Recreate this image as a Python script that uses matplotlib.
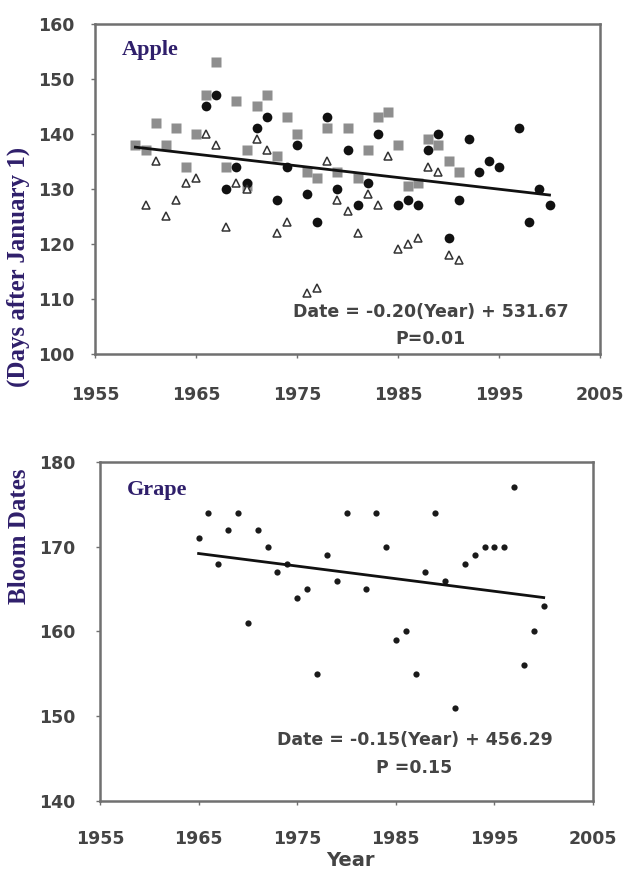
import matplotlib
matplotlib.use("Agg")
from matplotlib import pyplot as plt
import numpy as np

# apple bloom dates (days after January 1), three series
sq_years = [1959, 1960, 1961, 1962, 1963, 1964, 1965, 1966, 1967, 1968, 1969, 1970, 1970,
            1971, 1972, 1973, 1974, 1975, 1976, 1977, 1978, 1979, 1980, 1981, 1982, 1983,
            1984, 1985, 1986, 1987, 1988, 1989, 1990, 1991]
sq_vals = [138, 137, 142, 138, 141, 134, 140, 147, 153, 134, 146, 137, 130.5,
           145, 147, 136, 143, 140, 133, 132, 141, 133, 141, 132, 137, 143,
           144, 138, 130.5, 131, 139, 138, 135, 133]

ci_years = [1966, 1967, 1968, 1969, 1970, 1971, 1972, 1973, 1974, 1975, 1976, 1977, 1978,
            1979, 1980, 1981, 1982, 1983, 1985, 1986, 1987, 1988, 1989, 1990, 1991, 1992,
            1993, 1994, 1995, 1997, 1998, 1999, 2000]
ci_vals = [145, 147, 130, 134, 131, 141, 143, 128, 134, 138, 129, 124, 143,
           130, 137, 127, 131, 140, 127, 128, 127, 137, 140, 121, 128, 139,
           133, 135, 134, 141, 124, 130, 127]

tr_years = [1960, 1961, 1962, 1963, 1964, 1965, 1966, 1967, 1968, 1969, 1970, 1971, 1972,
            1973, 1974, 1976, 1977, 1978, 1979, 1980, 1981, 1982, 1983, 1984, 1985, 1986,
            1987, 1988, 1989, 1990, 1991]
tr_vals = [127, 135, 125, 128, 131, 132, 140, 138, 123, 131, 130, 139, 137,
           122, 124, 111, 112, 135, 128, 126, 122, 129, 127, 136, 119, 120,
           121, 134, 133, 118, 117]

apple_fit_x = [1959, 2000]
apple_fit_y = [137.6, 128.9]

# grape bloom dates
gr_years = [1965, 1966, 1967, 1968, 1969, 1970, 1971, 1972, 1973, 1974, 1975, 1976, 1977,
            1978, 1979, 1980, 1982, 1983, 1984, 1985, 1986, 1987, 1988, 1989, 1990, 1991,
            1992, 1993, 1994, 1995, 1996, 1997, 1998, 1999, 2000]
gr_vals = [171, 174, 168, 172, 174, 161, 172, 170, 167, 168, 164, 165, 155,
           169, 166, 174, 165, 174, 170, 159, 160, 155, 167, 174, 166, 151,
           168, 169, 170, 170, 170, 177, 156, 160, 163]

grape_fit_x = [1965, 2000]
grape_fit_y = [169.2, 164.0]

x_ticks = [1955, 1965, 1975, 1985, 1995, 2005]

serif = ["Liberation Serif", "DejaVu Serif"]
purple = "#2f1f6b"
tick_col = "#444444"
spine_col = "#707070"

fig = plt.figure(figsize=(6.25, 8.71), dpi=100)
ax1 = fig.add_axes([0.152, 0.5936, 0.808, 0.3789])
ax2 = fig.add_axes([0.16, 0.0804, 0.7888, 0.3892])


def style_axis(ax, yticks, xpad, ypad):
    ax.set_xlim(1955, 2005)
    ax.set_xticks(x_ticks)
    ax.set_yticks(yticks)
    ax.set_ylim(yticks[0], yticks[-1])
    for s in ax.spines.values():
        s.set_color(spine_col)
        s.set_linewidth(1.8)
    ax.tick_params(length=3, width=1, color=spine_col, labelcolor=tick_col, labelsize=12.5)
    ax.tick_params(axis="x", pad=xpad)
    ax.tick_params(axis="y", pad=ypad)
    for lab in ax.get_xticklabels() + ax.get_yticklabels():
        lab.set_fontweight("bold")


# apple
ax1.plot(sq_years, sq_vals, "s", ms=6.5, color="#8e8e8e", mec="none", zorder=2)
ax1.plot(ci_years, ci_vals, "o", ms=7, color="#111111", mec="none", zorder=3)
ax1.plot(tr_years, tr_vals, "^", ms=6, mfc="white", mec="#333333", mew=1.1, zorder=4)
ax1.plot(apple_fit_x, apple_fit_y, color="#111111", lw=2, zorder=5)
style_axis(ax1, [100, 110, 120, 130, 140, 150, 160], 20, 12)
ax1.text(0.053, 0.92, "Apple", transform=ax1.transAxes, family=serif, fontweight="bold",
         fontsize=16, color=purple, va="center", ha="left")
ax1.text(0.665, 0.127, "Date = -0.20(Year) + 531.67", transform=ax1.transAxes,
         fontsize=12.5, fontweight="bold", color=tick_col, ha="center", va="center")
ax1.text(0.665, 0.045, "P=0.01", transform=ax1.transAxes,
         fontsize=12.5, fontweight="bold", color=tick_col, ha="center", va="center")

# grape
ax2.plot(gr_years, gr_vals, "o", ms=4.5, color="#1a1a1a", mec="none", zorder=3)
ax2.plot(grape_fit_x, grape_fit_y, color="#111111", lw=2, zorder=4)
style_axis(ax2, [140, 150, 160, 170, 180], 18, 15)
ax2.text(0.055, 0.917, "Grape", transform=ax2.transAxes, family=serif, fontweight="bold",
         fontsize=16, color=purple, va="center", ha="left")
ax2.text(0.638, 0.18, "Date = -0.15(Year) + 456.29", transform=ax2.transAxes,
         fontsize=12.5, fontweight="bold", color=tick_col, ha="center", va="center")
ax2.text(0.638, 0.097, "P =0.15", transform=ax2.transAxes,
         fontsize=12.5, fontweight="bold", color=tick_col, ha="center", va="center")

# shared y label split over both panels, and x label
fig.text(0.03, 1 - 267 / 871, "(Days after January 1)", rotation=90, family=serif,
         fontweight="bold", fontsize=18, color=purple, ha="center", va="center")
fig.text(0.032, 1 - 536 / 871, "Bloom Dates", rotation=90, family=serif,
         fontweight="bold", fontsize=18, color=purple, ha="center", va="center")
fig.text(350 / 625, 1 - 860 / 871, "Year", fontsize=14, fontweight="bold",
         color=tick_col, ha="center", va="center")

fig.savefig("out.png", dpi=100, facecolor="white")
